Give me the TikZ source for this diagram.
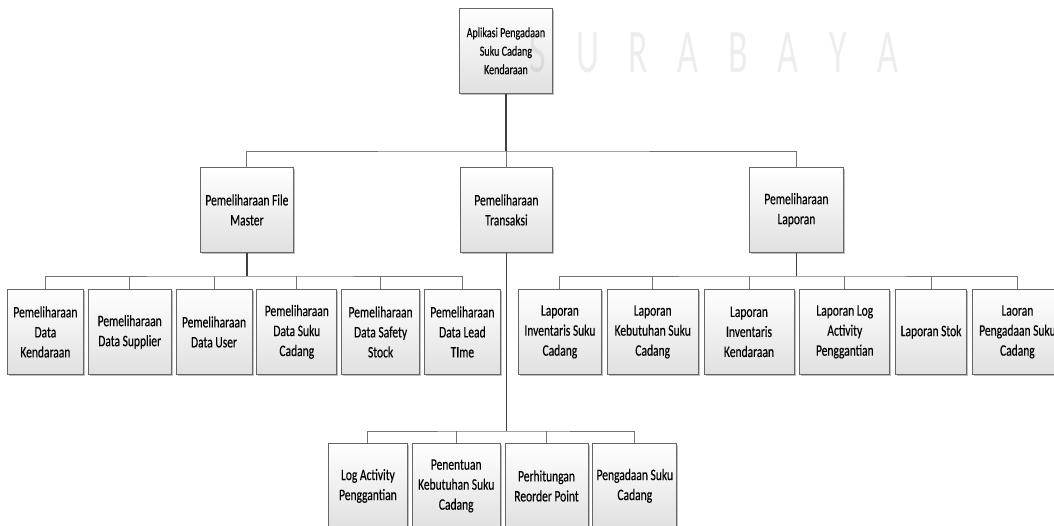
\documentclass[tikz,border=0pt]{standalone}
\usepackage{fontspec}
\setmainfont{Carlito}[FakeStretch=0.72, FakeBold=0.25]
\newfontfamily\wmfont{Carlito}[FakeStretch=0.58]
\usetikzlibrary{positioning,shadows}
\tikzstyle{block} = [rectangle, draw=black!60, line width=0.8pt, top color=white, bottom color=black!12, drop shadow={shadow xshift=1.5pt, shadow yshift=-1.5pt, fill=black!25, opacity=1}, align=center, inner sep=1pt, minimum height=85pt, font=\fontsize{16}{20}\selectfont]
\tikzstyle{root} = [block, font=\fontsize{14}{18.5}\selectfont]
\tikzstyle{line} = [draw=black!55, line width=0.9pt]
\tikzstyle{trunk} = [draw=black!75, line width=1.5pt]
\tikzstyle{watermark} = [text=black, opacity=0.07, font=\wmfont\fontsize{62}{62}\selectfont, inner sep=0pt]

\begin{document}
\begin{tikzpicture}[x=1pt, y=-1pt, node distance=4pt]
    \useasboundingbox (0,0) rectangle (1054,526);
    \fill [white] (0,0) rectangle (1054,526);
    % root and first level
    \node [root, minimum width=93pt, anchor=north west] (app) at (459,8) {Aplikasi Pengadaan\\Suku Cadang\\Kendaraan};
    \node [block, minimum width=93pt, anchor=north west] (master) at (200,167) {Pemeliharaan File\\Master};
    \node [block, minimum width=92pt, anchor=north west] (trans) at (460,167) {Pemeliharaan\\Transaksi};
    \node [block, minimum width=94pt, anchor=north west] (lap) at (749,167) {Pemeliharaan\\Laporan};
    % file master
    \node [block, minimum width=76pt, anchor=north west] (m1) at (7,289) {Pemeliharaan\\Data\\Kendaraan};
    \node [block, minimum width=83pt, right=of m1] (m2) {Pemeliharaan\\Data Supplier};
    \node [block, minimum width=76pt, right=of m2] (m3) {Pemeliharaan\\Data User};
    \node [block, minimum width=80pt, right=of m3] (m4) {Pemeliharaan\\Data Suku\\Cadang};
    \node [block, minimum width=78pt, right=of m4] (m5) {Pemeliharaan\\Data Safety\\Stock};
    \node [block, minimum width=76pt, right=of m5] (m6) {Pemeliharaan\\Data Lead\\TIme};
    % laporan
    \node [block, minimum width=83pt, anchor=north west] (l1) at (518,289) {Laporan\\Inventaris Suku\\Cadang};
    \node [block, minimum width=91pt, right=5pt of l1] (l2) {Laporan\\Kebutuhan Suku\\Cadang};
    \node [block, minimum width=90pt, right=5pt of l2] (l3) {Laporan\\Inventaris\\Kendaraan};
    \node [block, minimum width=90pt, right=5pt of l3] (l4) {Laporan Log\\Activity\\Penggantian};
    \node [block, minimum width=71pt, right=5pt of l4] (l5) {Laporan Stok};
    \node [block, minimum width=90pt, right=5pt of l5] (l6) {Laoran\\Pengadaan Suku\\Cadang};
    % transaksi
    \node [block, minimum width=79pt, anchor=north west] (t1) at (328,443) {Log Activity\\Penggantian};
    \node [block, minimum width=88pt, right=of t1] (t2) {Penentuan\\Kebutuhan Suku\\Cadang};
    \node [block, minimum width=83pt, right=of t2] (t3) {Perhitungan\\Reorder Point};
    \node [block, minimum width=84pt, right=of t3] (t4) {Pengadaan Suku\\Cadang};
    % bus levels
    \coordinate (busA) at (0,151);
    \coordinate (busB) at (0,276);
    \coordinate (busC) at (0,431);
    % connectors
    \path [trunk] (app.south) -- (app.south |- busA);
    \path [line] (master.north) |- (app.south |- busA) -| (lap.north);
    \path [line] (trans.north) -- (trans.north |- busA);
    \path [trunk] (master.south) -- (master.south |- busB);
    \path [line] (m1.north) |- (master.south |- busB) -| (m6.north);
    \path [line] (m2.north) -- (m2.north |- busB);
    \path [line] (m3.north) -- (m3.north |- busB);
    \path [line] (m4.north) -- (m4.north |- busB);
    \path [line] (m5.north) -- (m5.north |- busB);
    \path [trunk] (lap.south) -- (lap.south |- busB);
    \path [line] (l1.north) |- (lap.south |- busB) -| (l6.north);
    \path [line] (l2.north) -- (l2.north |- busB);
    \path [line] (l3.north) -- (l3.north |- busB);
    \path [line] (l4.north) -- (l4.north |- busB);
    \path [line] (l5.north) -- (l5.north |- busB);
    \path [trunk] (trans.south) -- (trans.south |- busC);
    \path [line] (t1.north) |- (trans.south |- busC) -| (t4.north);
    \path [line] (t2.north) -- (t2.north |- busC);
    \path [line] (t3.north) -- (t3.north |- busC);
    % watermark over the chart
    \foreach \ch [count=\i from 0] in {S,U,R,A,B,A,Y,A}
        \node [watermark] (wm\i) at (538+50*\i,53) {\ch};
\end{tikzpicture}
\end{document}
